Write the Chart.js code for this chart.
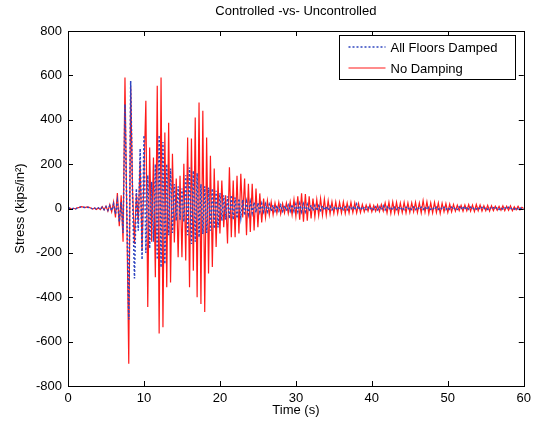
<!DOCTYPE html>
<html lang="en">
<head>
    <meta charset="UTF-8">
    <title>Controlled -vs- Uncontrolled</title>
    <script src="https://cdn.jsdelivr.net/npm/chart.js"></script>
    <style>
        * { margin: 0; padding: 0; box-sizing: border-box; }
        body { background: #ffffff; }
        .chart-box { width: 536px; height: 427px; position: relative; }
    </style>
</head>
<body>
    <div class="chart-box">
        <canvas id="stressChart"></canvas>
    </div>

    <script>
        // sampling step of the time history (s)
        const timeStep = 0.25;

        // All Floors Damped, one value per time step, 0 s .. 60 s
        const dampedStress = [
            0, 2, -2, 1, -2, 3, 5, 7, 6, 4, 6, 5, 2, -2, 2, -3, 3, -4, 6, -5,
            8, -8, 12, -10, 20, -25, 35, -60, 30, -110, 470, -20, -500, 575, 50, -315, 90, -100, 270, -230,
            330, -200, 150, -180, 120, -150, 200, -230, 330, -265, 300, -250, 200, -120, 180, -110, 110, -55, 100, -50,
            90, -60, 150, -120, 185, -160, 170, -150, 160, -130, 110, -115, 100, -110, 95, -100, 90, -90, 80, -85,
            70, -55, 60, -50, 55, -45, 60, -50, 50, -45, 45, -40, 40, -30, 30, -25, 30, -20, 28, -18,
            25, -15, 22, -15, 20, -14, 18, -12, 15, -12, 14, -10, 15, -12, 14, -10, 15, -12, 18, -12,
            20, -14, 22, -15, 20, -14, 18, -12, 15, -10, 14, -10, 12, -8, 12, -8, 10, -8, 10, -6,
            8, -6, 8, -6, 8, -5, 7, -6, 8, -5, 10, -6, 20, -5, 8, -6, 7, -5, 6, -5,
            6, -5, 7, -6, 8, -6, 12, -6, 8, -5, 7, -6, 6, -5, 7, -6, 6, -5, 6, -4,
            6, -5, 7, -5, 6, -4, 6, -5, 7, -5, 6, -4, 5, -5, 6, -4, 5, -4, 6, -5,
            5, -4, 6, -4, 5, -4, 8, -4, 10, -5, 8, -4, 6, -4, 5, -3, 5, -4, 5, -3,
            5, -4, 5, -3, 4, -3, 5, -4, 4, -3, 4, -3, 5, -3, 4, -3, 4, -3, 3, -2,
            0
        ];

        // No Damping, same time steps
        const undampedStress = [
            0, 2, -3, 1, -2, 3, 5, 8, 6, 4, 7, 5, 2, -3, 2, -4, 3, -5, 8, -6,
            10, -12, 18, -15, 30, -40, 70, -80, 60, -150, 590, -50, -700, 550, 80, -160, 70, -60, 215, -190,
            150, 486, -444, 275, -150, 230, -310, 553, -563, 590, -535, 342, -355, 387, -333, 247, -153, 135, -220, 148,
            -220, 202, -234, 320, -355, 315, -280, 410, -400, 478, -430, 441, -467, 320, -293, 238, -264, 180, -174, 126,
            -113, 126, -84, 60, -158, 186, -130, 126, -130, 148, -113, 157, -40, 135, -121, 112, -106, 112, -99, 90,
            -84, 68, -63, 45, -40, 35, -30, 30, -28, 25, -22, 28, -25, 22, -20, 25, -22, 30, -28, 40,
            -35, 55, -50, 68, -60, 65, -55, 55, -45, 45, -38, 40, -32, 45, -30, 42, -30, 35, -25, 30,
            -22, 30, -22, 28, -20, 30, -22, 25, -20, 28, -18, 25, -20, 22, -18, 18, -15, 15, -12, 18,
            -15, 14, -12, 16, -14, 18, -12, 25, -20, 28, -22, 30, -20, 28, -22, 25, -18, 28, -20, 25,
            -18, 26, -15, 28, -18, 25, -20, 36, -17, 30, -22, 26, -20, 28, -18, 25, -22, 24, -15, 22,
            -18, 20, -15, 18, -12, 15, -10, 14, -12, 16, -10, 18, -12, 15, -14, 18, -10, 16, -12, 12,
            -10, 14, -12, 12, -10, 10, -8, 10, -8, 12, -10, 10, -8, 12, -10, 8, -6, 10, -6, 5,
            0
        ];

        const seriesLabels = ['All Floors Damped', 'No Damping'];
        const seriesColors = ['#2f45c0', '#ff1a1a'];
        const xTicks = [0, 10, 20, 30, 40, 50, 60];
        const yTicks = [-800, -600, -400, -200, 0, 200, 400, 600, 800];

        const times = dampedStress.map((_, i) => i * timeStep);

        // matlab style box: inward ticks on all sides plus legend inside top-right
        const matlabAxes = {
            id: 'matlabAxes',
            afterDatasetsDraw(chart) {
                const { ctx, chartArea: a, scales: { x, y } } = chart;
                ctx.save();
                ctx.strokeStyle = '#000';
                ctx.lineWidth = 1;
                ctx.strokeRect(Math.round(a.left) + 0.5, Math.round(a.top) + 0.5,
                    Math.round(a.right - a.left), Math.round(a.bottom - a.top));

                const tl = 5;
                ctx.beginPath();
                x.ticks.forEach(t => {
                    const px = Math.round(x.getPixelForValue(t.value)) + 0.5;
                    ctx.moveTo(px, a.bottom); ctx.lineTo(px, a.bottom - tl);
                    ctx.moveTo(px, a.top); ctx.lineTo(px, a.top + tl);
                });
                y.ticks.forEach(t => {
                    const py = Math.round(y.getPixelForValue(t.value)) + 0.5;
                    ctx.moveTo(a.left, py); ctx.lineTo(a.left + tl, py);
                    ctx.moveTo(a.right, py); ctx.lineTo(a.right - tl, py);
                });
                ctx.stroke();

                // legend
                const lw = 176, lh = 44;
                const lx = Math.round(a.right - 9 - lw) + 0.5;
                const ly = Math.round(a.top + 4) + 0.5;
                ctx.fillStyle = '#fff';
                ctx.fillRect(lx, ly, lw, lh);
                ctx.strokeRect(lx, ly, lw, lh);
                ctx.font = '13px "Liberation Sans", Arial, Helvetica, sans-serif';
                ctx.textBaseline = 'middle';
                chart.data.datasets.forEach((ds, i) => {
                    const cy = ly + 11.5 + i * 21;
                    ctx.save();
                    ctx.strokeStyle = seriesColors[i];
                    ctx.lineWidth = ds.borderWidth;
                    ctx.setLineDash(ds.borderDash || []);
                    ctx.beginPath();
                    ctx.moveTo(lx + 9, cy);
                    ctx.lineTo(lx + 46, cy);
                    ctx.stroke();
                    ctx.restore();
                    ctx.fillStyle = '#000';
                    ctx.fillText(ds.label, lx + 51, cy + 1);
                });
                ctx.restore();
            }
        };

        const initChart = () => {
            if (typeof Chart === 'undefined') {
                console.error('Chart.js not loaded');
                return;
            }
            Chart.defaults.font.family = '"Liberation Sans", Arial, Helvetica, sans-serif';
            Chart.defaults.font.size = 13;
            Chart.defaults.color = '#000';

            const ctx = document.getElementById('stressChart').getContext('2d');
            new Chart(ctx, {
                type: 'line',
                data: {
                    datasets: [{
                        label: seriesLabels[0],
                        data: times.map((t, i) => ({ x: t, y: dampedStress[i] })),
                        borderColor: seriesColors[0],
                        borderWidth: 1.5,
                        borderDash: [2, 2],
                        pointRadius: 0,
                        tension: 0,
                        fill: false
                    }, {
                        label: seriesLabels[1],
                        data: times.map((t, i) => ({ x: t, y: undampedStress[i] })),
                        borderColor: seriesColors[1],
                        borderWidth: 1.2,
                        pointRadius: 0,
                        tension: 0,
                        fill: false
                    }]
                },
                options: {
                    responsive: true,
                    maintainAspectRatio: false,
                    animation: false,
                    layout: { padding: { left: 0, right: 10, top: 0, bottom: 0 } },
                    plugins: {
                        legend: { display: false },
                        tooltip: { enabled: false },
                        title: {
                            display: true,
                            text: 'Controlled -vs- Uncontrolled',
                            fullSize: false,
                            font: { size: 13, weight: 'normal' },
                            color: '#000',
                            padding: { top: 4, bottom: 11.4 }
                        }
                    },
                    scales: {
                        x: {
                            type: 'linear',
                            min: 0,
                            max: 60,
                            afterBuildTicks: (scale) => { scale.ticks = xTicks.map(v => ({ value: v })); },
                            afterFit: (scale) => { scale.height = 41; },
                            grid: { display: false, drawTicks: false },
                            border: { display: false },
                            ticks: { padding: 5, maxRotation: 0, color: '#000' },
                            title: {
                                display: true,
                                text: 'Time (s)',
                                color: '#000',
                                padding: { top: 0, bottom: 9 }
                            }
                        },
                        y: {
                            type: 'linear',
                            min: -800,
                            max: 800,
                            afterBuildTicks: (scale) => { scale.ticks = yTicks.map(v => ({ value: v })); },
                            afterFit: (scale) => { scale.width = 68; },
                            grid: { display: false, drawTicks: false },
                            border: { display: false },
                            ticks: { padding: 6, color: '#000' },
                            title: {
                                display: true,
                                text: 'Stress (kips/in²)',
                                color: '#000',
                                padding: { top: 13, bottom: 0 }
                            }
                        }
                    }
                },
                plugins: [matlabAxes]
            });
        };

        document.addEventListener('DOMContentLoaded', initChart);
    </script>
</body>
</html>
